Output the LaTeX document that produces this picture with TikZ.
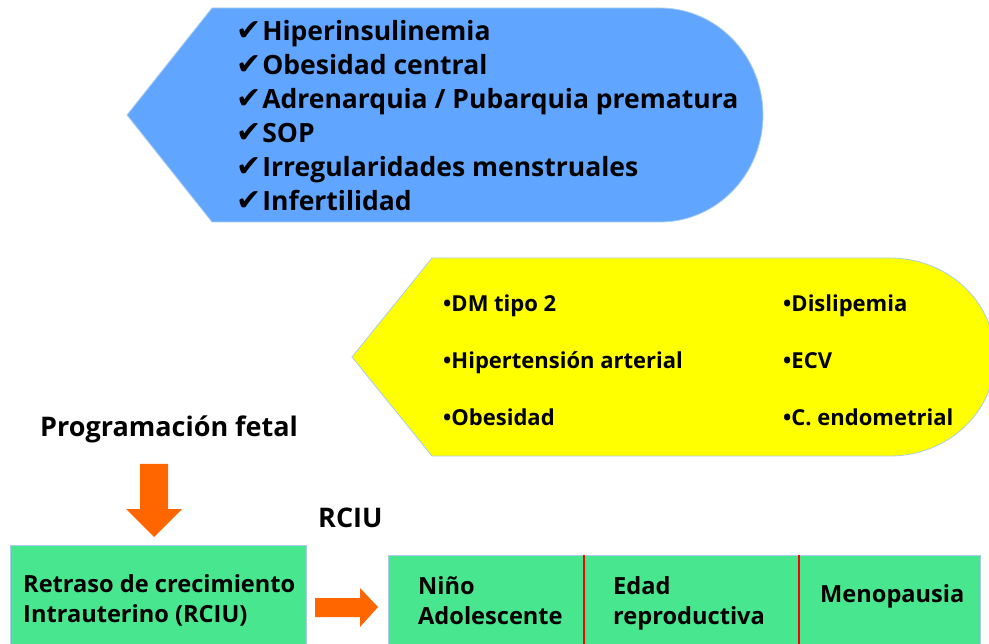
\documentclass[tikz,border=0pt]{standalone}
\usepackage{fontspec}
\setmainfont{Open Sans}
\newfontfamily\simbolos{DejaVu Sans}
\usetikzlibrary{calc,positioning}

\definecolor{azul}{RGB}{96,165,255}
\definecolor{amarillo}{RGB}{255,255,0}
\definecolor{verde}{RGB}{72,230,143}
\definecolor{naranja}{RGB}{255,102,0}
\definecolor{borde}{RGB}{170,205,235}

\newcommand{\chk}{{\simbolos\fontsize{30}{34}\selectfont\char"2714}\hspace{1pt}}

\begin{document}
\begin{tikzpicture}[x=1pt,y=-1pt,font=\bfseries,
  texto/.style={inner sep=0pt,anchor=base west},
  caja/.style={fill=verde,draw=borde,line width=.8pt},
  flecha/.style={fill=naranja}]
\useasboundingbox (0,0) rectangle (989,644);

% forma azul
\draw[fill=azul,draw=borde,line width=.8pt] (212,8) -- (660,8)
  .. controls (717,8) and (763,56) .. (763,115)
  .. controls (763,174) and (717,222) .. (660,222)
  -- (212,222) -- (127,115) -- cycle;
\node[texto,align=left,font=\bfseries\fontsize{26.5}{34}\selectfont] (riesgos) at (236,211)
  {\chk Hiperinsulinemia\\ \chk Obesidad central\\ \chk Adrenarquia / Pubarquia prematura\\
   \chk SOP\\ \chk Irregularidades menstruales\\ \chk Infertilidad};

% forma amarilla
\draw[fill=amarillo,draw=borde,line width=.8pt] (432,258) -- (890,258)
  .. controls (948,258) and (995,302) .. (995,357)
  .. controls (995,412) and (948,456) .. (890,456)
  -- (432,456) -- (352,357) -- cycle;
\begin{scope}[font=\bfseries\fontsize{22}{24}\selectfont]
\node[texto] (dm) at (443,312) {•DM tipo 2};
\node[texto] (hta) at (443,369) {•Hipertensión arterial};
\node[texto] (obes) at (443,426) {•Obesidad};
\node[texto] (disl) at (783,312) {•Dislipemia};
\node[texto] (ecv) at (783,369) {•ECV};
\node[texto] (endo) at (783,426) {•C. endometrial};
\end{scope}

% parte inferior
\node[texto,font=\bfseries\fontsize{27}{30}\selectfont] (prog) at (40,437) {Programación fetal};
\node[texto,font=\bfseries\fontsize{27}{30}\selectfont] (rciu) at (318,527) {RCIU};

\draw[caja] (10,545) rectangle (306,660);
\draw[caja] (388,555) rectangle (980,660);
\draw[red,line width=2.5pt] (584,555) -- (584,644);
\draw[red,line width=2.5pt] (799,555) -- (799,644);

\begin{scope}[font=\bfseries\fontsize{23.6}{30}\selectfont]
\node[texto,align=left] (retraso) at (23,622) {Retraso de crecimiento\\Intrauterino (RCIU)};
\node[texto,align=left] (nino) at (418,624) {Niño\\Adolescente};
\node[texto,align=left] (edad) at (613,624) {Edad\\reproductiva};
\node[texto] (meno) at (820,602) {Menopausia};
\end{scope}

% flechas
\fill[flecha] (140,464) -- (168,464) -- (168,509) -- (182,509) -- (154,537)
  -- (126,509) -- (140,509) -- cycle;
\fill[flecha] (315,598) -- (360,598) -- (360,588) -- (378,607) -- (360,627)
  -- (360,617) -- (315,617) -- cycle;
\end{tikzpicture}
\end{document}
